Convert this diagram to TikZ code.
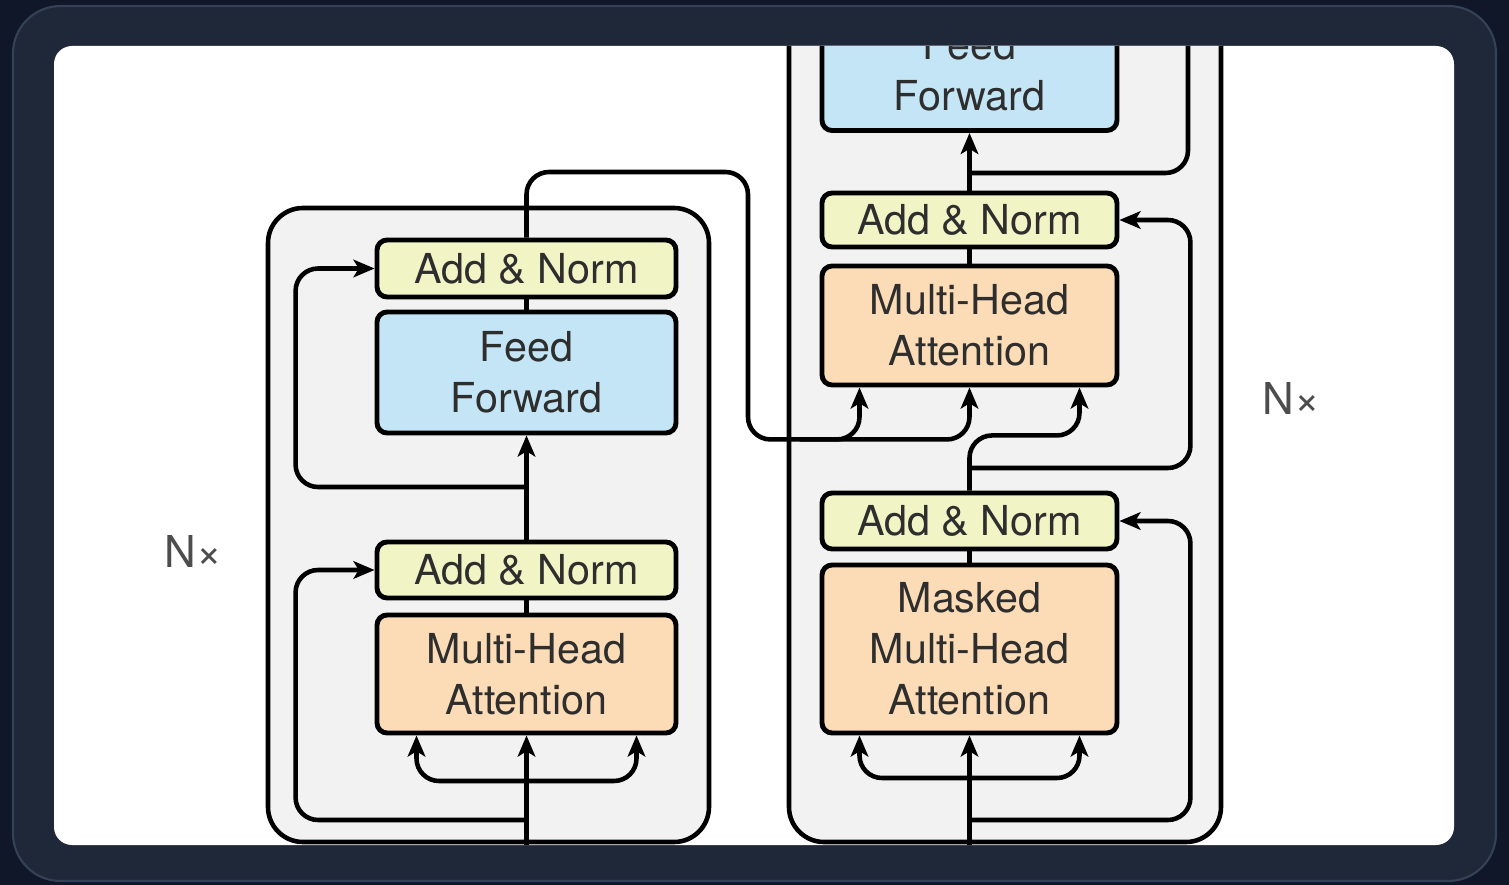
\documentclass[tikz,border=0pt]{standalone}
\usepackage{fontspec}
\setmainfont{TeX Gyre Heros}
\usetikzlibrary{arrows.meta,calc}
\definecolor{pagebg}{HTML}{0F1729}
\definecolor{framefill}{HTML}{1F2839}
\definecolor{frameline}{HTML}{344257}
\definecolor{stackgray}{HTML}{F2F2F2}
\definecolor{normgreen}{HTML}{F1F4C4}
\definecolor{ffblue}{HTML}{C3E5F5}
\definecolor{attnpeach}{HTML}{FCDCB6}
\definecolor{inkgray}{HTML}{2E2E2E}
\tikzset{
  layer/.style={draw=black, line width=2.8pt, rounded corners=0.2cm, inner sep=0pt, align=center, text=inkgray, font=\fontsize{23.5}{29}\selectfont},
  addnorm/.style={layer, fill=normgreen},
  ffwd/.style={layer, fill=ffblue, minimum height=2.42cm},
  attn/.style={layer, fill=attnpeach},
  stack/.style={draw=black, line width=2.6pt, fill=stackgray, rounded corners=0.7cm},
  wire/.style={line width=2.6pt, rounded corners=0.45cm},
  feed/.style={wire, -{Stealth[length=12pt,width=10pt,inset=3pt]}},
  nxlabel/.style={text=inkgray!85, font=\fontsize{25}{30}\selectfont}
}
\begin{document}
\begin{tikzpicture}[x=0.02cm, y=-0.02cm]
        \useasboundingbox (0,0) rectangle (1509,885);
        \fill[pagebg] (0,0) rectangle (1509,885);
        \draw[fill=framefill, draw=frameline, line width=1.2pt, rounded corners=0.95cm] (13,6) rectangle (1496,881);
        \fill[white, rounded corners=0.36cm] (54,46) rectangle (1454,845);
        \begin{scope}
            \clip[rounded corners=0.36cm] (54,46) rectangle (1454,845);
            \draw[stack] (268,208) rectangle (709,842);
            \draw[stack] (789,-80) rectangle (1221,842);

            \node[addnorm, minimum width=5.98cm, minimum height=1.14cm] (enAN2) at (526.5,268.5) {Add \& Norm};
            \node[ffwd, minimum width=5.98cm] (enFF) at (526.5,372.5) {Feed\\Forward};
            \node[addnorm, minimum width=5.98cm, minimum height=1.12cm] (enAN1) at (526.5,570) {Add \& Norm};
            \node[attn, minimum width=5.98cm, minimum height=2.36cm] (enMHA) at (526.5,674) {Multi-Head\\Attention};

            \node[ffwd, minimum width=5.9cm] (deFF) at (969.5,70) {Feed\\Forward};
            \node[addnorm, minimum width=5.9cm, minimum height=1.08cm] (deAN2) at (969.5,220) {Add \& Norm};
            \node[attn, minimum width=5.9cm, minimum height=2.38cm] (deMHA) at (969.5,325.5) {Multi-Head\\Attention};
            \node[addnorm, minimum width=5.9cm, minimum height=1.12cm] (deAN1) at (969.5,521) {Add \& Norm};
            \node[attn, minimum width=5.9cm, minimum height=3.36cm] (deMMHA) at (969.5,649) {Masked\\Multi-Head\\Attention};

            \node[nxlabel] (enRep) at (193,551) {N×};
            \node[nxlabel] (deRep) at (1291,398) {N×};

            \coordinate (enIn) at (526.5,870);
            \coordinate (enSplit) at (526.5,781);
            \coordinate (enSkipA) at (526.5,820);
            \coordinate (enSkipB) at (526.5,487);
            \coordinate (enOut) at (748,172);
            \coordinate (deIn) at (969.5,870);
            \coordinate (deSplit) at (969.5,778);
            \coordinate (deSkipA) at (969.5,820);
            \coordinate (deSkipB) at (969.5,468);
            \coordinate (deSkipC) at (969.5,173);
            \coordinate (deOut) at (1188,-40);

            \draw[feed] (enIn) -- (enMHA);
            \draw[feed] (enSplit) -| ($(enMHA.south)+(-110,0)$);
            \draw[feed] (enSplit) -| ($(enMHA.south)+(110,0)$);
            \draw[feed] (enSkipA) -| ($(enAN1.west)+(-79,0)$) -- (enAN1.west);
            \draw[wire] (enMHA) -- (enAN1);
            \draw[feed] (enAN1) -- (enFF);
            \draw[feed] (enSkipB) -| ($(enAN2.west)+(-79,0)$) -- (enAN2.west);
            \draw[wire] (enFF) -- (enAN2);
            \draw[feed] (enAN2.north) |- (enOut) |- ($(deMHA.south)+(0,52)$) -- (deMHA.south);
            \draw[feed] ($(deMHA.south)+(-170,52)$) -| ($(deMHA.south)+(-110,0)$);

            \draw[feed] (deIn) -- (deMMHA);
            \draw[feed] (deSplit) -| ($(deMMHA.south)+(-110,0)$);
            \draw[feed] (deSplit) -| ($(deMMHA.south)+(110,0)$);
            \draw[feed] (deSkipA) -| ($(deAN1.east)+(71,0)$) -- (deAN1.east);
            \draw[wire] (deMMHA) -- (deAN1);
            \draw[feed] (deAN1.north) |- ($(deMHA.south)+(110,48)$) -- ($(deMHA.south)+(110,0)$);
            \draw[feed] (deSkipB) -| ($(deAN2.east)+(71,0)$) -- (deAN2.east);
            \draw[wire] (deMHA) -- (deAN2);
            \draw[feed] (deAN2) -- (deFF);
            \draw[wire] (deSkipC) -| (deOut);
        \end{scope}
\end{tikzpicture}
\end{document}
